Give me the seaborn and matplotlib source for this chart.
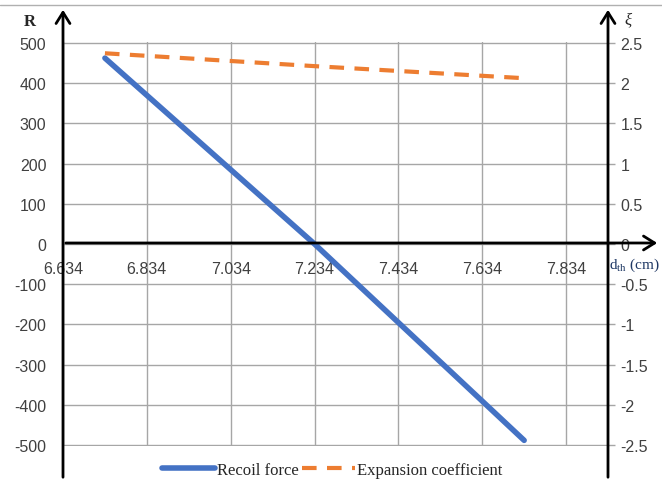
import numpy as np
import pandas as pd
import matplotlib
matplotlib.use("Agg")
import matplotlib.pyplot as plt
import seaborn as sns

# values
d_th = [6.734, 7.234, 7.734]
recoil_force = [462, 0, -488]
expansion_coef = [2.37, 2.21, 2.06]

x_ticks = [6.634, 6.834, 7.034, 7.234, 7.434, 7.634, 7.834]
r_ticks = [-500, -400, -300, -200, -100, 0, 100, 200, 300, 400, 500]
xi_ticks = [-2.5, -2, -1.5, -1, -0.5, 0, 0.5, 1, 1.5, 2, 2.5]

sns.set_style("white")
plt.rcParams["font.family"] = ["Liberation Sans", "DejaVu Sans"]

W, H = 662, 481
fig = plt.figure(figsize=(W / 100, H / 100), dpi=100)


def fx(px):
    return px / W


def fy(py):
    return 1 - py / H


left, right, top, bottom = 63, 608, 43, 447
ax = fig.add_axes([fx(left), fy(bottom), fx(right) - fx(left), fy(top) - fy(bottom)])
ax2 = ax.twinx()

df_r = pd.DataFrame({"d": d_th, "R": recoil_force})
df_x = pd.DataFrame({"d": d_th, "xi": expansion_coef})

sns.lineplot(data=df_r, x="d", y="R", ax=ax, color="#4472C4", lw=4,
             label="Recoil force", legend=False, solid_capstyle="round")
sns.lineplot(data=df_x, x="d", y="xi", ax=ax2, color="#ED7D31", lw=3,
             label="Expansion coefficient", legend=False)
ax2.lines[0].set_linestyle((0, (3.5, 2.5)))

ax.set_xlim(6.634, 7.934)
ax.set_ylim(-502, 502)
ax2.set_ylim(-2.51, 2.51)

ax.set_xticks(x_ticks)
ax.set_xticklabels([f"{v:.3f}" for v in x_ticks])
ax.set_yticks(r_ticks)
ax.set_yticklabels([str(v) for v in r_ticks])
ax2.set_yticks(xi_ticks)
ax2.set_yticklabels([f"{v:g}" for v in xi_ticks])

ax.set_xlabel("")
ax.set_ylabel("")
ax2.set_ylabel("")

ax.grid(True, color="#a6a6a6", lw=1)
ax.set_axisbelow(True)
for a in (ax, ax2):
    for s in a.spines.values():
        s.set_visible(False)
ax.spines["left"].set_visible(True)
ax.spines["left"].set_color("#d0d0d0")

ax.spines["bottom"].set_position(("data", 0))
ax.tick_params(axis="x", length=0, pad=12, labelsize=11.5, colors="#404040")
ax.tick_params(axis="y", length=0, pad=12, labelsize=11.5, colors="#404040")
ax2.tick_params(axis="y", length=5, width=1, color="#a6a6a6", pad=4,
                labelsize=11.5, colors="#404040", direction="out")

# arrow axes
fig.add_artist(plt.Line2D([0, 1], [fy(6), fy(6)], color="#b0b0b0", lw=1))
for px in (left, right):
    fig.add_artist(matplotlib.patches.FancyArrowPatch(
        (fx(px), fy(H)), (fx(px), fy(8)), transform=fig.transFigure,
        arrowstyle="->,head_length=8,head_width=5", lw=2, color="black",
        mutation_scale=1))
fig.add_artist(matplotlib.patches.FancyArrowPatch(
    (fx(left), fy(244)), (fx(660), fy(244)), transform=fig.transFigure,
    arrowstyle="->,head_length=8,head_width=5", lw=2, color="black",
    mutation_scale=1))

fig.text(fx(30), fy(22), "R", fontsize=12, fontweight="bold",
         family="Liberation Serif", ha="center", va="center")
fig.text(fx(628), fy(20), "ξ", fontsize=12, style="italic",
         family="Liberation Serif", ha="center", va="center")
fig.text(fx(660), fy(265), r"d$_{\mathregular{th}}$ (cm)", fontsize=11,
         family="Liberation Serif", ha="right", va="center", color="#1f3864")

handles = ax.lines[:1] + ax2.lines[:1]
fig.legend(handles, ["Recoil force", "Expansion coefficient"], loc="center",
           bbox_to_anchor=(fx(332), fy(471)), ncol=2, frameon=False,
           prop={"family": "Liberation Serif", "size": 12},
           handlelength=3.2, handletextpad=0.1, columnspacing=0.2)

fig.savefig("out.png", dpi=100)
